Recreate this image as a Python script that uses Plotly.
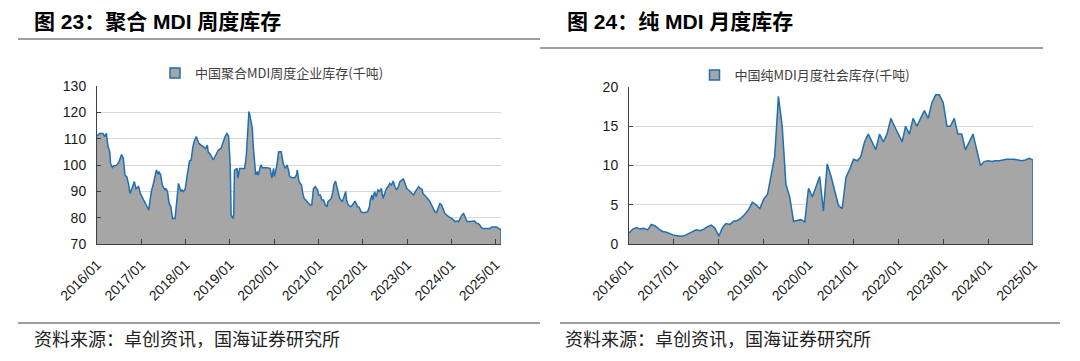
import datetime as dt
import plotly.graph_objects as go

# ---------------- data ----------------
# Left: weekly polymeric MDI inventory (thousand tons); week index since 2016-01-01
weekly_week = [0, 3, 7, 9, 11, 13, 15, 16, 18, 20, 22, 24, 26, 29, 31, 33, 35, 37, 39, 41,
               44, 46, 49, 51, 54, 57, 59, 61, 62, 64, 67, 70, 72, 73, 75, 77, 80, 81, 83, 85,
               87, 89, 92, 94, 96, 99, 100, 102, 104, 106, 109, 111, 113, 115, 117, 120, 122, 125, 128, 130,
               131, 134, 137, 139, 141, 143, 146, 148, 151, 153, 155, 157, 158, 160, 161, 162, 165, 166, 168, 170,
               174, 176, 177, 179, 180, 182, 183, 184, 186, 187, 189, 190, 193, 195, 200, 204, 206, 208, 209, 212,
               214, 217, 219, 220, 222, 224, 226, 227, 230, 233, 235, 236, 238, 241, 242, 244, 246, 249, 251, 253,
               255, 257, 260, 261, 263, 265, 267, 269, 271, 272, 274, 276, 278, 279, 281, 282, 284, 286, 289, 291,
               293, 294, 296, 299, 301, 304, 305, 307, 309, 311, 313, 316, 319, 321, 322, 324, 325, 327, 329, 331,
               333, 335, 337, 339, 341, 343, 345, 347, 349, 351, 353, 355, 357, 359, 361, 363, 365, 367, 369, 371,
               373, 375, 377, 379, 381, 383, 384, 386, 388, 390, 392, 394, 396, 398, 400, 402, 404, 406, 408, 410,
               412, 414, 416, 418, 420, 422, 424, 426, 428, 430, 432, 434, 436, 439, 443, 445, 447, 449, 451, 453,
               455, 459, 463, 465, 469, 471, 474, 476]
weekly_value = [111.0, 112.0, 112.0, 110.8, 112.0, 107.0, 105.0, 100.6, 99.0, 99.7, 99.7, 100.3, 101.3, 104.0, 102.5, 96.0, 95.6, 93.0, 89.2, 91.0,
                93.7, 91.0, 91.8, 89.2, 87.3, 85.4, 84.2, 82.9, 85.4, 89.9, 93.7, 98.1, 96.5, 97.5, 96.2, 92.4, 90.5, 91.1, 89.9, 85.4,
                84.2, 79.7, 79.7, 86.7, 93.0, 89.9, 90.5, 89.9, 91.0, 95.6, 101.5, 101.9, 107.0, 109.5, 110.8, 108.2, 107.6, 107.0, 106.3, 107.6,
                105.0, 103.8, 101.9, 103.2, 105.0, 105.7, 106.3, 108.2, 110.8, 112.0, 111.0, 100.0, 81.0, 79.7, 81.0, 98.0, 98.7, 95.0, 98.7, 98.7,
                98.7, 103.8, 110.0, 120.3, 119.0, 115.2, 113.9, 107.6, 98.7, 96.2, 97.5, 96.2, 100.0, 99.0, 99.0, 98.7, 95.0, 98.7, 95.6, 100.0,
                105.0, 105.0, 101.3, 100.0, 98.7, 100.0, 97.5, 95.6, 95.2, 95.2, 96.2, 98.1, 93.7, 92.4, 89.9, 87.3, 86.7, 85.4, 84.8, 84.8,
                91.0, 91.8, 90.5, 88.6, 88.6, 86.7, 86.7, 84.8, 84.2, 86.0, 86.7, 87.3, 89.9, 92.4, 93.9, 92.4, 89.9, 87.3, 86.0, 88.0,
                89.9, 86.7, 84.8, 84.2, 84.8, 86.3, 85.4, 84.2, 83.9, 82.3, 82.0, 82.0, 82.3, 84.2, 86.7, 88.6, 86.7, 89.9, 88.0, 90.5,
                89.9, 91.1, 87.3, 89.2, 91.1, 91.8, 93.0, 92.4, 93.9, 91.8, 90.5, 91.8, 93.7, 94.3, 94.7, 93.0, 91.1, 90.5, 89.9, 89.2,
                88.6, 89.9, 91.1, 91.8, 91.1, 90.8, 89.2, 88.6, 88.0, 87.1, 86.3, 84.8, 83.3, 82.3, 82.0, 83.5, 85.4, 84.8, 82.9, 81.6,
                81.0, 80.4, 80.0, 79.7, 79.1, 78.5, 78.7, 78.5, 79.7, 81.0, 81.6, 79.7, 78.5, 78.5, 78.5, 78.7, 77.8, 77.8, 77.2, 76.2,
                75.9, 75.9, 75.9, 76.5, 76.5, 76.5, 75.7, 75.7]

# Right: monthly pure MDI social inventory (thousand tons), 2016/01 - 2025/01
monthly_start = "2016-01"
monthly_value = [1.4, 1.9, 2.1, 1.9, 2.0, 1.8, 2.5, 2.3, 1.9, 1.6, 1.5, 1.3,
                 1.1, 1.05, 1.0, 1.1, 1.3, 1.5, 1.8, 1.7, 1.9, 2.2, 2.4, 2.0,
                 1.0, 2.1, 2.6, 2.5, 2.9, 3.0, 3.3, 3.8, 4.4, 5.3, 5.0, 4.5,
                 5.7, 6.3, 8.5, 11.2, 18.8, 15.0, 7.6, 6.0, 2.9, 3.0, 3.1, 2.8,
                 7.1, 6.0, 7.4, 8.6, 4.2, 10.2, 8.7, 6.8, 4.9, 4.5, 8.5, 9.5,
                 10.8, 10.6, 11.1, 13.0, 14.0, 13.0, 12.0, 14.0, 13.0, 14.0, 16.0, 15.0,
                 14.0, 13.0, 15.0, 14.0, 16.0, 15.0, 16.0, 17.0, 16.0, 18.0, 19.0, 19.0,
                 18.0, 15.0, 15.0, 16.0, 14.0, 14.0, 12.0, 13.0, 14.0, 12.0, 10.0, 10.5,
                 10.6, 10.5, 10.6, 10.6, 10.7, 10.8, 10.8, 10.8, 10.7, 10.6, 10.7, 10.9,
                 10.7]

title_left = "图 23：聚合 MDI 周度库存"
title_right = "图 24：纯 MDI 月度库存"
legend_left = "中国聚合MDI周度企业库存(千吨)"
legend_right = "中国纯MDI月度社会库存(千吨)"
source_text = "资料来源：卓创资讯，国海证券研究所"

# ---------------- build ----------------
base = dt.date(2016, 1, 1)
weekly_dates = [base + dt.timedelta(days=7 * w) for w in weekly_week]
y0, m0 = map(int, monthly_start.split("-"))
monthly_dates = [dt.date(y0 + (m0 - 1 + i) // 12, (m0 - 1 + i) % 12 + 1, 1) for i in range(len(monthly_value))]

FILL = "#a6a6a6"
LINE = "#1f6fb2"
W, H = 1080, 361


def px(x):
    return x / W


def py(y):
    return (H - y) / H


fig = go.Figure()

fig.add_trace(go.Scatter(x=weekly_dates, y=weekly_value, mode="lines", fill="tozeroy",
                         fillcolor=FILL, line=dict(color=LINE, width=1.5),
                         xaxis="x", yaxis="y", showlegend=False))
fig.add_trace(go.Scatter(x=[None], y=[None], mode="markers", name=legend_left,
                         marker=dict(symbol="square", size=10, color=FILL, line=dict(color=LINE, width=1.5)),
                         xaxis="x", yaxis="y", legend="legend"))

fig.add_trace(go.Scatter(x=monthly_dates, y=monthly_value, mode="lines", fill="tozeroy",
                         fillcolor=FILL, line=dict(color=LINE, width=1.5),
                         xaxis="x2", yaxis="y2", showlegend=False))
fig.add_trace(go.Scatter(x=[None], y=[None], mode="markers", name=legend_right,
                         marker=dict(symbol="square", size=10, color=FILL, line=dict(color=LINE, width=1.5)),
                         xaxis="x2", yaxis="y2", legend="legend2"))

# closing edge of each area at its last data point
fig.add_shape(type="line", xref="x", yref="y", x0=weekly_dates[-1], x1=weekly_dates[-1],
              y0=70, y1=weekly_value[-1], line=dict(color=LINE, width=1.5))
fig.add_shape(type="line", xref="x2", yref="y2", x0=monthly_dates[-1], x1=monthly_dates[-1],
              y0=0, y1=monthly_value[-1], line=dict(color=LINE, width=1.5))

TICKFONT = dict(family="Liberation Sans, Arial, sans-serif", size=14, color="#1a1a1a")

xcommon = dict(type="date", tickformat="%Y/%m", dtick="M12", tick0="2016-01-01", tickangle=-45,
               showgrid=False, showline=True, linecolor="#404040", linewidth=1, automargin=False,
               ticks="inside", ticklen=5, tickcolor="#404040", tickfont=TICKFONT, zeroline=False,
               ticklabelstandoff=6)
ycommon = dict(showgrid=True, gridcolor="#d9d9d9", gridwidth=1, showline=True, linecolor="#404040",
               linewidth=1, ticks="inside", ticklen=4, tickcolor="#404040", tickfont=TICKFONT,
               zeroline=False, automargin=False, ticklabelstandoff=7)

LEGFONT = dict(family="Noto Sans CJK SC, sans-serif", size=13, color="#404040")

fig.update_layout(
    width=W, height=H,
    margin=dict(l=0, r=0, t=0, b=0, autoexpand=False),
    paper_bgcolor="white", plot_bgcolor="white",
    xaxis=dict(domain=[px(97), px(501)], range=[weekly_dates[0], weekly_dates[-1]], anchor="y", **xcommon),
    yaxis=dict(domain=[py(244), py(86)], range=[70, 130], dtick=10, anchor="x", **ycommon),
    xaxis2=dict(domain=[px(629), px(1033)], range=[monthly_dates[0], monthly_dates[-1]], anchor="y2", **xcommon),
    yaxis2=dict(domain=[py(244), py(87)], range=[0, 20], dtick=5, anchor="x2", **ycommon),
    legend=dict(x=px(272), y=py(73), xanchor="center", yanchor="middle", orientation="h",
                font=LEGFONT, bgcolor="rgba(0,0,0,0)", itemwidth=30),
    legend2=dict(x=px(805), y=py(75), xanchor="center", yanchor="middle", orientation="h",
                 font=LEGFONT, bgcolor="rgba(0,0,0,0)", itemwidth=30),
)

TITLEFONT = dict(family="Liberation Sans, Noto Sans CJK SC, sans-serif", size=21, color="#000000")
SRCFONT = dict(family="Noto Sans CJK SC, sans-serif", size=18, color="#222222")

fig.add_annotation(text="<b>" + title_left + "</b>", x=px(32), y=py(22), xref="paper", yref="paper",
                   xanchor="left", yanchor="middle", showarrow=False, font=TITLEFONT)
fig.add_annotation(text="<b>" + title_right + "</b>", x=px(565), y=py(22), xref="paper", yref="paper",
                   xanchor="left", yanchor="middle", showarrow=False, font=TITLEFONT)
fig.add_annotation(text=source_text, x=px(32), y=py(338), xref="paper", yref="paper",
                   xanchor="left", yanchor="middle", showarrow=False, font=SRCFONT)
fig.add_annotation(text=source_text, x=px(563), y=py(338), xref="paper", yref="paper",
                   xanchor="left", yanchor="middle", showarrow=False, font=SRCFONT)

for x0, x1, yy in [(18, 540, 39), (540, 1043, 48)]:
    fig.add_shape(type="line", xref="paper", yref="paper", x0=px(x0), x1=px(x1), y0=py(yy), y1=py(yy),
                  line=dict(color="#7f7f7f", width=1.5))
for x0, x1 in [(18, 540), (560, 1060)]:
    fig.add_shape(type="line", xref="paper", yref="paper", x0=px(x0), x1=px(x1), y0=py(323), y1=py(323),
                  line=dict(color="#7f7f7f", width=1.5))

fig.write_html("out.html", config={"displayModeBar": False, "staticPlot": True},
               post_script="document.body.style.margin='0';document.body.style.padding='0';"
                           "document.documentElement.style.overflow='hidden';")
